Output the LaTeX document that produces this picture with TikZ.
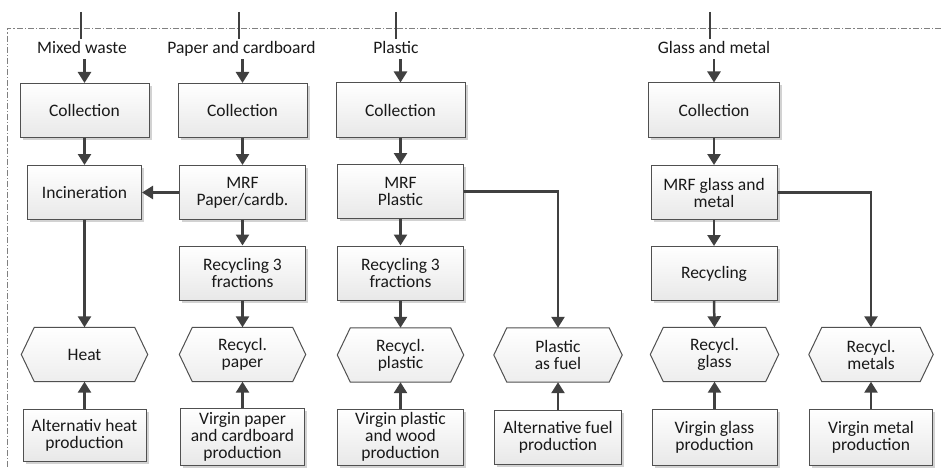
\documentclass[tikz,border=0pt]{standalone}
\usepackage{fontspec}
\setmainfont{Carlito}
\usetikzlibrary{arrows.meta,shadows}
\pgfdeclarelayer{bg}
\pgfsetlayers{bg,main}
\definecolor{ink}{HTML}{404040}
\definecolor{edgegray}{HTML}{505050}
\definecolor{framegray}{HTML}{808080}
\definecolor{shade}{HTML}{D2D2D2}
\begin{document}
\begin{tikzpicture}[x=1pt,y=-1pt,
  every node/.style={font=\fontsize{17.5}{17}\selectfont, text=black!90, align=center, inner sep=0pt},
  procbox/.style={draw=edgegray, line width=1pt, minimum width=126pt, minimum height=54pt,
    top color=white, bottom color=black!9,
    drop shadow={shadow xshift=2.5pt, shadow yshift=-2.5pt, fill=shade, opacity=1}},
  collbox/.style={procbox, minimum width=129pt},
  hexa/.style={minimum width=126pt, minimum height=54pt},
  hexline/.style={draw=edgegray, line width=1pt, top color=white, bottom color=black!7},
  flow/.style={draw=ink, line width=2.5pt, -{Triangle[width=13pt,length=11pt]}},
  feed/.style={draw=ink, line width=2pt},
  lbl/.style={text height=12pt, text depth=4pt, inner sep=1pt},
  borderline/.style={draw=framegray, line width=0.8pt, dash pattern=on 6pt off 2pt on 1.2pt off 2pt},
]
\useasboundingbox (0,0) rectangle (941,468);

% system boundary
\draw[borderline] (941,28.3) -- (7.5,28.3) -- (7.5,468);

% incoming waste streams
\node[lbl] (lab1) at (82,50) {Mixed waste};
\node[lbl] (lab2) at (241.5,50) {Paper and cardboard};
\node[lbl] (lab3) at (396,50) {Plastic};
\node[lbl] (lab5) at (714,50) {Glass and metal};
\coordinate (in1) at (81,12);
\coordinate (in2) at (239,12);
\coordinate (in3) at (396,12);
\coordinate (in5) at (710,12);

% collection
\node[collbox] (col1) at (84.5,110.5) {Collection};
\node[collbox] (col2) at (242.5,110.5) {Collection};
\node[collbox] (col3) at (400.5,110) {Collection};
\node[collbox, minimum width=131pt] (col5) at (714,110) {Collection};

% treatment
\node[procbox, minimum width=114pt] (inc) at (84.5,192.5) {Incineration};
\node[procbox] (mrfp) at (242.5,192.5) {MRF\\Paper/cardb.};
\node[procbox] (mrfpl) at (400.5,191.5) {MRF\\Plastic};
\node[procbox] (mrfg) at (714,192.5) {MRF glass and\\metal};

\node[procbox] (rec2) at (242.5,273) {Recycling 3\\fractions};
\node[procbox] (rec3) at (400.5,273) {Recycling 3\\fractions};
\node[procbox] (rec5) at (714,273.5) {Recycling};

% products
\node[hexa] (heat) at (84.5,354.5) {Heat};
\node[hexa] (rpaper) at (242.5,354.5) {Recycl.\\paper};
\node[hexa] (rplastic) at (400.5,355) {Recycl.\\plastic};
\node[hexa, minimum width=128pt] (fuel) at (558,355) {Plastic\\as fuel};
\node[hexa, minimum width=128pt] (rglass) at (714.5,354.5) {Recycl.\\glass};
\node[hexa, minimum width=124pt] (rmetal) at (871,354.5) {Recycl.\\metals};

% avoided production
\node[procbox, minimum width=123pt, minimum height=52pt] (alth) at (84.5,435) {Alternativ heat\\production};
\node[procbox, minimum width=124pt, minimum height=57pt] (vpaper) at (242.5,436.5) {Virgin paper\\and cardboard\\production};
\node[procbox, minimum height=56pt] (vplastic) at (400.5,437) {Virgin plastic\\and wood\\production};
\node[procbox, minimum width=127pt] (altfuel) at (558,437) {Alternative fuel\\production};
\node[procbox, minimum width=125pt, minimum height=56pt] (vglass) at (714.5,437) {Virgin glass\\production};
\node[procbox, minimum width=123pt, minimum height=56pt] (vmetal) at (871,437) {Virgin metal\\production};

% hexagon outlines behind the product labels
\begin{pgfonlayer}{bg}
\foreach \h in {heat,rpaper,rplastic,fuel,rglass,rmetal}
  \draw[hexline] (\h.west) -- ([xshift=13pt]\h.north west) -- ([xshift=-13pt]\h.north east)
    -- (\h.east) -- ([xshift=-13pt]\h.south east) -- ([xshift=13pt]\h.south west) -- cycle;
\end{pgfonlayer}

% stream inputs
\draw[feed, shorten >=2pt] (in1) -- (in1 |- lab1.north);
\draw[feed, shorten >=2pt] (in2) -- (in2 |- lab2.north);
\draw[feed, shorten >=2pt] (in3) -- (in3 |- lab3.north);
\draw[feed, shorten >=2pt] (in5) -- (in5 |- lab5.north);
\draw[flow] (col1.north |- lab1.south) -- (col1.north);
\draw[flow] (col2.north |- lab2.south) -- (col2.north);
\draw[flow] (col3.north |- lab3.south) -- (col3.north);
\draw[flow] (col5.north |- lab5.south) -- (col5.north);

% flows
\draw[flow] (col1.south) -- (inc.north);
\draw[flow] (col2.south) -- (mrfp.north);
\draw[flow] (col3.south) -- (mrfpl.north);
\draw[flow] (col5.south) -- (mrfg.north);
\draw[flow] (mrfp.west) -- (inc.east);
\draw[flow] (inc.south) -- (heat.north);
\draw[flow] (mrfp.south) -- (rec2.north);
\draw[flow] (mrfpl.south) -- (rec3.north);
\draw[flow] (mrfg.south) -- (rec5.north);
\draw[flow] (rec2.south) -- (rpaper.north);
\draw[flow] (rec3.south) -- (rplastic.north);
\draw[flow] (rec5.south) -- (rglass.north);
\draw[flow] (mrfpl.east) -| (fuel.north);
\draw[flow] (mrfg.east) -| (rmetal.north);

% substitution
\draw[flow] (alth.north) -- (heat.south);
\draw[flow] (vpaper.north) -- (rpaper.south);
\draw[flow] (vplastic.north) -- (rplastic.south);
\draw[flow] (altfuel.north) -- (fuel.south);
\draw[flow] (vglass.north) -- (rglass.south);
\draw[flow] (vmetal.north) -- (rmetal.south);
\end{tikzpicture}
\end{document}
